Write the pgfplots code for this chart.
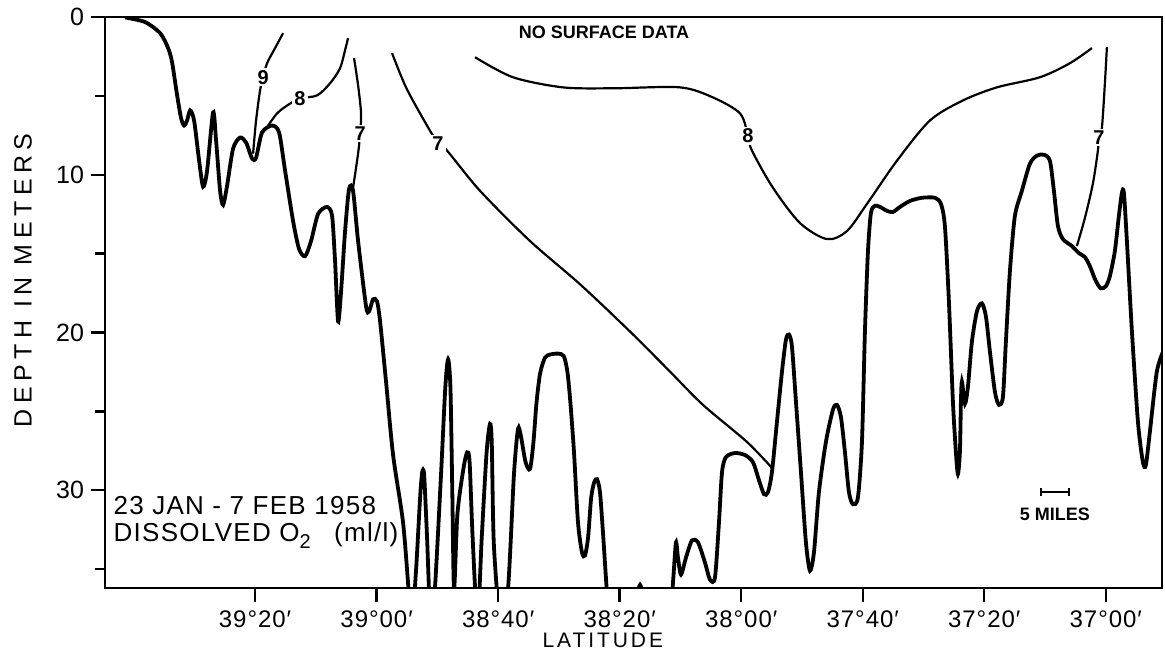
\documentclass[border=0pt]{standalone}
\usepackage{fontspec}
\setmainfont{Liberation Sans}
\usepackage{pgfplots}
\pgfplotsset{compat=1.18}
\usetikzlibrary{arrows.meta}

% x: minutes of latitude south of 40°00'N, y: depth (m)
\begin{document}
\begin{tikzpicture}
\begin{axis}[
  name=ax,
  scale only axis,
  width=528.5pt, height=285.5pt,
  xmin=15.3, xmax=189.25,
  ymin=0, ymax=36.2, y dir=reverse,
  axis line style={line width=1.4pt},
  xtick={40,60,80,100,120,140,160,180},
  xticklabels={39°20′,39°00′,38°40′,38°20′,38°00′,37°40′,37°20′,37°00′},
  ytick={0,10,20,30},
  yticklabels={0,10,20,30},
  minor ytick={5,15,25,35},
  tick align=outside,
  xtick pos=bottom, ytick pos=left,
  major tick length=7pt, minor tick length=5pt,
  every tick/.style={black, line width=1.2pt},
  /pgf/number format/assume math mode=true,
  xticklabel style={font=\fontsize{12}{13}\selectfont\addfontfeature{LetterSpace=4}, yshift=-1pt},
  yticklabel style={font=\fontsize{12.5}{13}\selectfont},
  xlabel={LATITUDE},
  ylabel={DEPTH IN METERS},
  xlabel style={at={(axis description cs:0.471,-0.0911)}, anchor=center,
    font=\fontsize{10.5}{12}\selectfont\addfontfeature{LetterSpace=14}},
  ylabel style={at={(axis description cs:-0.0776,0.539)}, anchor=center, rotate=0,
    font=\fontsize{12.5}{13}\selectfont\addfontfeature{LetterSpace=22}},
  clip=true,
]

% bottom profile
\addplot[black, line width=1.9pt, smooth, tension=0.45] coordinates {
(18.61,0.03) (21.90,0.32) (24.37,1.02) (25.69,1.97) (26.34,2.87) (27.17,4.97)
(27.83,6.43) (28.32,6.88) (28.81,6.56) (29.31,5.92) (29.96,6.56) (30.79,9.11)
(31.44,10.76) (32.10,9.75) (33.09,6.05) (33.58,7.83) (34.24,11.02) (34.74,11.91)
(35.39,10.70) (36.38,8.34) (37.53,7.64) (38.52,7.96) (39.51,8.98) (40.16,8.92)
(41.15,7.32) (42.80,6.88) (43.95,7.32) (44.94,9.75) (46.25,12.93) (47.24,14.71)
(48.23,15.16) (49.21,14.20) (50.37,12.48) (51.85,12.04) (52.67,12.61) (53.16,15.48)
(53.66,19.30) (54.15,17.39) (54.81,13.57) (55.47,10.89) (56.12,11.02) (56.95,14.20)
(58.26,18.34) (58.76,18.66) (59.41,17.90) (60.07,18.03) (60.57,19.30) (61.55,23.12)
(62.71,27.77) (64.35,32.04) (65.30,36.5) (65.80,38.5)
(66.50,35.0) (67.15,30.5) (67.45,29.0) (67.64,28.7) (67.85,29.2) (68.30,33.0) (68.90,38.5)
(69.60,36.2) (70.60,29.0) (71.30,23.5) (71.76,21.7) (72.15,23.5) (72.45,30.0) (72.74,36.3)
(73.30,31.5) (74.30,28.6) (74.90,27.6) (75.30,28.2) (75.80,33.0) (76.60,38.3)
(77.30,33.0) (78.10,27.6) (78.66,25.8) (78.95,27.0) (79.30,33.5) (80.40,38.5)
(81.63,36.2) (82.60,29.0) (83.27,26.1) (83.76,26.6) (84.50,28.2) (85.24,28.66)
(85.80,27.0) (86.30,24.5) (86.90,22.6) (87.70,21.6) (88.54,21.40) (89.85,21.34)
(90.80,21.5) (91.40,22.5) (91.90,24.5) (92.48,27.58) (93.14,32.04) (93.80,33.95)
(94.29,34.14) (94.80,33.0) (95.30,30.5) (95.80,29.5) (96.27,29.30) (96.76,30.13)
(97.25,32.68) (97.91,36.50) (98.60,39.5) (101.70,40.0) (102.85,36.8) (103.35,36.0)
(103.84,36.8) (105.00,40.0) (107.95,39.7) (108.77,35.86) (109.26,33.31) (109.59,34.27)
(110.09,35.35) (110.91,34.27) (111.90,33.18) (112.89,33.31) (114.04,34.59) (114.86,35.67)
(115.68,35.54) (116.34,32.04) (116.84,28.85) (117.49,27.90) (118.97,27.64) (120.62,27.77)
(121.93,28.22) (122.92,29.36) (123.75,30.25) (124.40,30.13) (125.06,28.85) (125.88,25.67)
(126.71,22.48) (127.36,20.45) (127.86,20.13) (128.35,20.89) (129.01,24.39) (129.83,28.85)
(130.65,33.31) (131.31,35.10) (131.97,33.95) (132.79,30.13) (133.94,26.94) (135.09,24.90)
(135.75,24.59) (136.41,25.35) (137.07,27.58) (137.73,30.13) (138.39,30.89) (139.21,30.45)
(139.87,26.94) (140.36,19.94) (140.86,14.84) (141.35,12.42) (142.01,11.97) (142.83,12.04)
(143.99,12.29) (144.97,12.36) (146.12,12.04) (147.77,11.66) (149.74,11.46) (151.88,11.46)
(152.87,11.85) (153.52,13.25) (154.18,18.03) (154.84,24.39) (155.33,27.58) (155.66,28.98)
(155.99,27.58) (156.16,24.39) (156.32,23.12) (156.82,24.52) (157.31,23.44) (157.97,20.57)
(158.79,18.66) (159.61,18.15) (160.27,18.98) (160.93,21.21) (161.75,23.76) (162.41,24.59)
(163.07,24.08) (163.56,20.57) (164.22,16.11) (165.04,12.61) (166.19,11.02) (167.51,9.30)
(168.66,8.79) (169.82,8.73) (170.80,9.11) (171.46,11.02) (172.12,13.25) (172.94,14.08)
(174.42,14.52) (175.57,14.97) (176.56,15.22) (177.38,15.80) (178.37,16.75) (179.19,17.20)
(180.01,17.07) (180.67,16.43) (181.49,14.84) (182.15,12.61) (182.65,11.15) (182.98,11.15)
(183.47,14.20) (184.30,19.94) (185.29,25.67) (186.10,28.22) (186.59,28.41) (187.25,26.31)
(188.40,22.48) (189.56,21.08)
};

% isopleths of dissolved oxygen (ml/l)
\addplot[black, line width=1.1pt, smooth] coordinates {
(44.61,1.02) (43.29,1.97) (41.97,2.93) (41.32,3.82) (40.82,4.65) (40.16,6.56) (39.67,8.66)
};
\addplot[black, line width=1.1pt, smooth] coordinates {
(55.30,1.34) (54.81,2.10) (53.98,3.25) (52.34,4.20) (50.20,4.97) (47.40,5.16)
(45.27,5.61) (43.62,6.11) (42.14,6.88)
};
\addplot[black, line width=1.1pt, smooth] coordinates {
(56.29,2.61) (56.95,4.33) (57.44,6.11) (57.28,7.39) (56.95,8.66) (56.12,10.83)
};
\addplot[black, line width=1.1pt, smooth] coordinates {
(62.54,2.29) (64.68,4.33) (67.15,6.11) (70.11,8.03) (71.59,8.47) (77.02,11.02)
(85.24,14.20) (93.47,16.94) (101.70,19.94) (108.28,22.48) (113.71,24.59)
(120.95,26.94) (125.23,28.66)
};
\addplot[black, line width=1.1pt, smooth] coordinates {
(76.20,2.55) (82.45,3.82) (90.67,4.46) (98.90,4.52) (109.92,4.46) (115.35,5.10)
(119.80,6.11) (121.11,7.52) (121.77,8.47) (125.23,10.83) (129.67,13.06)
(134.11,14.08) (137.40,13.57) (140.69,11.85) (145.63,9.11) (151.06,6.56)
(156.49,5.29) (162.08,4.46) (169.15,3.82) (174.09,2.93) (177.71,1.97)
};
\addplot[black, line width=1.1pt, smooth] coordinates {
(180.18,1.91) (179.85,4.20) (179.36,7.01) (178.86,7.64) (178.70,8.47)
(177.87,10.57) (176.56,12.74) (175.24,14.52)
};

% scale bar
\addplot[black, line width=1.1pt, {Bar[width=4pt]}-{Bar[width=4pt]}] coordinates {(169.15,30.13) (174.09,30.13)};

% isopleth labels
\begin{scope}[every node/.style={fill=white, inner sep=1pt, font=\bfseries\fontsize{10}{10}\selectfont}]
\node at (axis cs:41.32,3.82) {9};
\node at (axis cs:47.40,5.16) {8};
\node at (axis cs:57.28,7.39) {7};
\node at (axis cs:70.11,8.03) {7};
\node at (axis cs:121.11,7.52) {8};
\node at (axis cs:178.86,7.64) {7};
\end{scope}

\node[font=\bfseries\fontsize{9}{10}\selectfont] at (axis cs:97.42,0.96) {NO SURFACE DATA};
\node[font=\bfseries\fontsize{9}{10}\selectfont] at (axis cs:171.62,31.53) {5 MILES};
\node[anchor=west, inner sep=0pt, font=\fontsize{13}{14}\selectfont\addfontfeature{LetterSpace=5}] at (axis cs:16.64,30.96) {23 JAN - 7 FEB 1958};
\node[anchor=west, inner sep=0pt, font=\fontsize{13}{14}\selectfont\addfontfeature{LetterSpace=5}] at (axis cs:16.64,32.87)
  {DISSOLVED O\raisebox{-0.45ex}{\fontsize{10}{10}\selectfont 2}\hspace{0.9em}(ml/l)};
\end{axis}
\pgfresetboundingbox
\path ([xshift=-52.5pt, yshift=-34pt]ax.south west) rectangle ([xshift=1.5pt, yshift=8.5pt]ax.north east);
\end{tikzpicture}
\end{document}
